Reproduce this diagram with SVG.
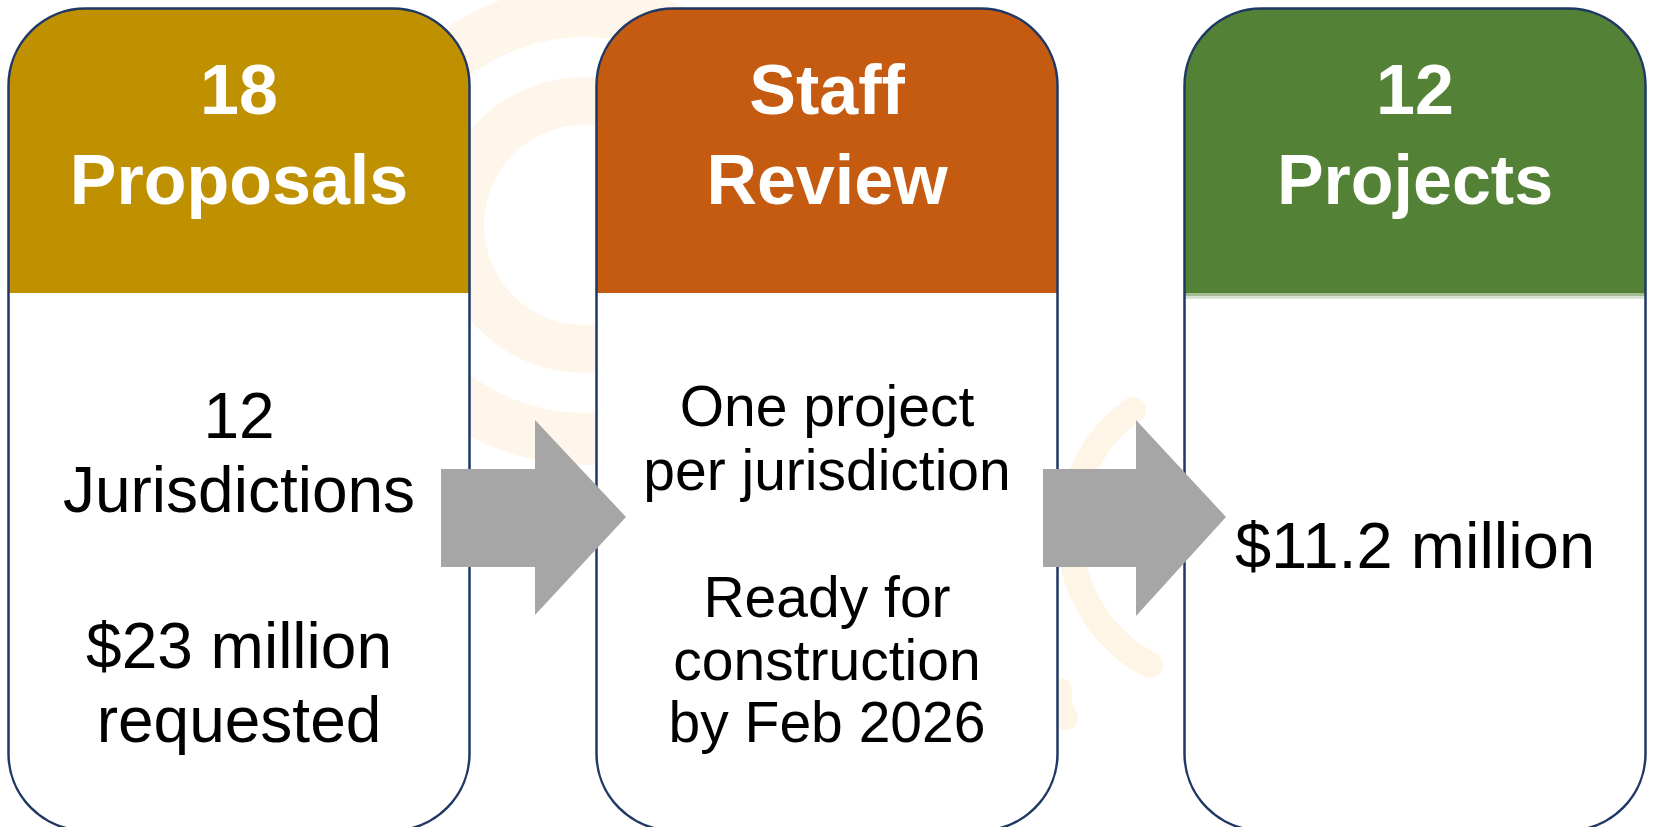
<svg xmlns="http://www.w3.org/2000/svg" width="1654" height="827" viewBox="0 0 1654 827">
  <style>
    .body { fill: #FFFFFF; }
    .outline { fill: none; stroke: #1F3864; stroke-width: 2.5; }
    .head { font-family: "Liberation Sans", Arial, sans-serif; font-weight: bold; font-size: 70px; fill: #FFFFFF; text-anchor: middle; }
    .txt { font-family: "Liberation Sans", Arial, sans-serif; fill: #000000; text-anchor: middle; }
    .t1 { font-size: 64px; }
    .t2 { font-size: 57px; }
    .t3 { font-size: 65px; }
    .arrow { fill: #A6A6A6; }
    .wm1 { fill: none; stroke: #FEF5EB; }
    .wm2 { fill: none; stroke: #FFF5E6; stroke-linecap: round; }
  </style>

  <rect x="0" y="0" width="1654" height="827" fill="#FFFFFF"/>

  <g id="watermark">
    <circle cx="584" cy="225" r="124" class="wm1" stroke-width="48"/>
    <circle cx="584" cy="225" r="214" class="wm1" stroke-width="52"/>
    <path d="M 1133 410 A 150 150 0 0 0 1150 665" class="wm2" stroke-width="26"/>
    <path d="M 1060 690 A 40 40 0 0 0 1066 718" class="wm2" stroke-width="24"/>
  </g>

  <g id="card-proposals">
    <rect x="8.5" y="8.5" width="461" height="822" rx="77" ry="77" class="body"/>
    <path d="M 8.5 293 L 8.5 85.5 A 77 77 0 0 1 85.5 8.5 L 392.5 8.5 A 77 77 0 0 1 469.5 85.5 L 469.5 293 Z" fill="#BF9000"/>
    <rect x="8.5" y="8.5" width="461" height="822" rx="77" ry="77" class="outline"/>
    <text x="239" y="114" class="head">18</text>
    <text x="239" y="204" class="head">Proposals</text>
    <text x="239" y="438" class="txt t1">12</text>
    <text x="239" y="512" class="txt t1">Jurisdictions</text>
    <text x="239" y="668" class="txt t1">$23 million</text>
    <text x="239" y="742" class="txt t1">requested</text>
  </g>

  <g id="card-review">
    <rect x="596.5" y="8.5" width="461" height="822" rx="77" ry="77" class="body"/>
    <path d="M 596.5 293 L 596.5 85.5 A 77 77 0 0 1 673.5 8.5 L 980.5 8.5 A 77 77 0 0 1 1057.5 85.5 L 1057.5 293 Z" fill="#C55A11"/>
    <rect x="596.5" y="8.5" width="461" height="822" rx="77" ry="77" class="outline"/>
    <text x="827" y="114" class="head">Staff</text>
    <text x="827" y="204" class="head">Review</text>
    <text x="827" y="426" class="txt t2">One project</text>
    <text x="827" y="490" class="txt t2">per jurisdiction</text>
    <text x="827" y="617" class="txt t2">Ready for</text>
    <text x="827" y="680" class="txt t2">construction</text>
    <text x="827" y="742" class="txt t2">by Feb 2026</text>
  </g>

  <g id="card-projects">
    <rect x="1184.5" y="8.5" width="461" height="822" rx="77" ry="77" class="body"/>
    <path d="M 1184.5 293 L 1184.5 85.5 A 77 77 0 0 1 1261.5 8.5 L 1568.5 8.5 A 77 77 0 0 1 1645.5 85.5 L 1645.5 293 Z" fill="#538135"/>
    <rect x="1184.5" y="293" width="461" height="3" fill="#A3BC93"/>
    <rect x="1184.5" y="296" width="461" height="3" fill="#D8E3D2"/>
    <rect x="1184.5" y="8.5" width="461" height="822" rx="77" ry="77" class="outline"/>
    <text x="1415" y="114" class="head">12</text>
    <text x="1415" y="204" class="head">Projects</text>
    <text x="1415" y="568" class="txt t3">$11.2 million</text>
  </g>

  <g id="connectors">
    <polygon points="441,469 535,469 535,420 626,517 535,615 535,567 441,567" class="arrow"/>
    <polygon points="1043,469 1136,469 1136,420 1226,517 1136,616 1136,567 1043,567" class="arrow"/>
  </g>
</svg>
